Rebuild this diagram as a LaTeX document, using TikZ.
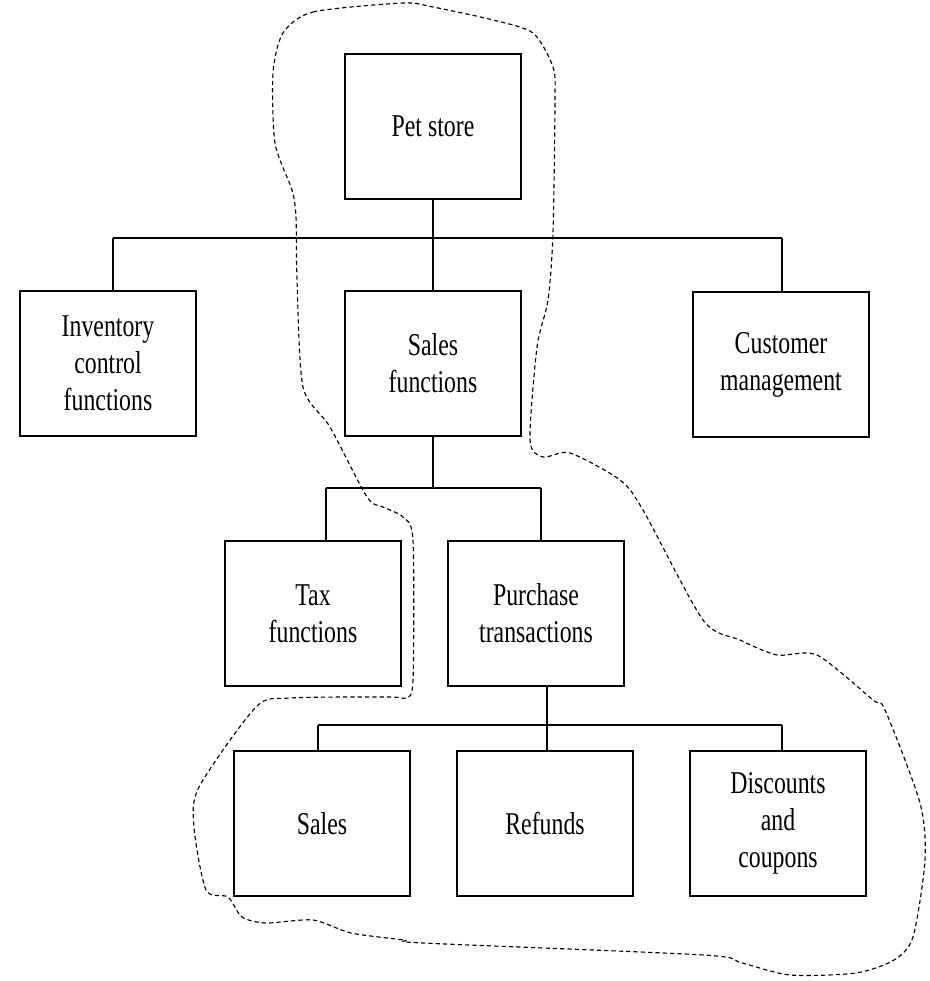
\documentclass[tikz,border=0pt]{standalone}
\usepackage{fontspec}
\setmainfont{Liberation Serif}[FakeStretch=0.75]
\begin{document}
\begin{tikzpicture}[x=0.75pt,y=-0.75pt,
  box/.style={draw,line width=1pt,minimum width=132pt,minimum height=108.75pt,inner sep=0pt,align=center,font=\fontsize{23.8}{27.75}\selectfont},
  link/.style={line width=1pt},
  outline/.style={line width=0.85pt,dash pattern=on 3.2pt off 2.3pt}]
\path[fill=white] (0,0) rectangle (930,981);
\useasboundingbox (0,0) rectangle (930,981);
% boxes
\node[box] (pet) at (433,126.5) {Pet store};
\node[box] (inv) at (108,363.5) {Inventory\\control\\functions};
\node[box] (salesf) at (433,363.5) {Sales\\functions};
\node[box] (cust) at (781,364.5) {Customer\\management};
\node[box] (tax) at (313,613.5) {Tax\\functions};
\node[box] (purch) at (536,613.5) {Purchase\\transactions};
\node[box] (sales) at (322,823.5) {Sales};
\node[box] (ref) at (545,823.5) {Refunds};
\node[box] (disc) at (778,823.5) {Discounts\\and\\coupons};
% buses
\coordinate (b1) at (433,238);
\coordinate (b1l) at (113,238);
\coordinate (b1r) at (782,238);
\coordinate (b2) at (433,488);
\coordinate (b2l) at (326,488);
\coordinate (b2r) at (541,488);
\coordinate (b3) at (547,725);
\coordinate (b3l) at (318,725);
\coordinate (b3r) at (782,725);
\draw[link] (pet.south) -- (salesf.north);
\draw[link] (b1l) -- (b1r);
\draw[link] (b1l) -- (b1l |- inv.north);
\draw[link] (b1r) -- (b1r |- cust.north);
\draw[link] (salesf.south) -- (b2);
\draw[link] (b2l) -- (b2r);
\draw[link] (b2l) -- (b2l |- tax.north);
\draw[link] (b2r) -- (b2r |- purch.north);
\draw[link] (b3 |- purch.south) -- (b3 |- ref.north);
\draw[link] (b3l) -- (b3r);
\draw[link] (b3l) -- (b3l |- sales.north);
\draw[link] (b3r) -- (b3r |- disc.north);
% dashed outline
\draw[outline] plot[smooth cycle,tension=0.45] coordinates {
(283,33) (313,12) (403,3) (433,7) (493,20) (533,33) (553,67) (555,100) (553,233) (548,300)
(537,347) (530,440) (543,457) (570,453) (620,480) (643,510) (703,620) (740,640) (777,655)
(817,655) (873,700) (885,710) (920,803) (925,860) (913,937) (894,960) (856,973) (790,975)
(742,963) (704,955) (423,943) (404,940) (351,933) (313,920) (266,923) (242,917) (228,897)
(206,890) (194,827) (199,787) (256,707) (290,698) (390,697) (406,698) (413,680) (413,540)
(403,517) (383,507) (367,497) (330,427) (303,387) (297,280) (296,217) (292,190) (275,143)
(273,73)};
\end{tikzpicture}
\end{document}
